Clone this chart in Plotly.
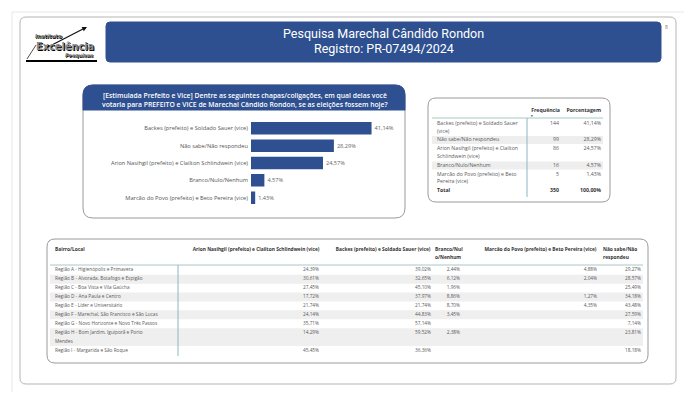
import plotly.graph_objects as go

W, H = 696, 402

# ------------------------------------------------------------------ data
title_line1 = "Pesquisa Marechal Cândido Rondon"
title_line2 = "Registro: PR-07494/2024"
question_lines = ["[Estimulada Prefeito e Vice] Dentre as seguintes chapas/coligações, em qual delas você",
                  "votaria para PREFEITO e VICE de Marechal Cândido Rondon, se as eleições fossem hoje?"]

bar_labels = ["Backes (prefeito) e Soldado Sauer (vice)",
              "Não sabe/Não respondeu",
              "Arion Nasihgil (prefeito) e Clailton Schlindwein (vice)",
              "Branco/Nulo/Nenhum",
              "Marcão do Povo (prefeito) e Beto Pereira (vice)"]
bar_values = [41.14, 28.29, 24.57, 4.57, 1.43]

freq_header = ["", "Frequência", "Porcentagem"]
freq_labels = ["Backes (prefeito) e Soldado Sauer<br>(vice)",
               "Não sabe/Não respondeu",
               "Arion Nasihgil (prefeito) e Clailton<br>Schlindwein (vice)",
               "Branco/Nulo/Nenhum",
               "Marcão do Povo (prefeito) e Beto<br>Pereira (vice)"]
freq_counts = [144, 99, 86, 16, 5]
freq_pcts = [41.14, 28.29, 24.57, 4.57, 1.43]
freq_total_label = "Total"
freq_total = 350
freq_total_pct = 100.00

region_headers = ["Bairro/Local",
                  "Arion Nasihgil (prefeito) e Clailton Schlindwein (vice)",
                  "Backes (prefeito) e Soldado Sauer (vice)",
                  "Branco/Nul<br>o/Nenhum",
                  "Marcão do Povo (prefeito) e Beto Pereira (vice)",
                  "Não sabe/Não<br>respondeu"]
region_labels = ["Região A - Higienópolis e Primavera",
                 "Região B - Alvorada, Botafogo e Espigão",
                 "Região C - Boa Vista e Vila Gaúcha",
                 "Região D - Ana Paula e Centro",
                 "Região E - Líder e Universitário",
                 "Região F - Marechal, São Francisco e São Lucas",
                 "Região G - Novo Horizonte e Novo Três Passos",
                 "Região H - Bom Jardim, Iguiporã e Porto<br>Mendes",
                 "Região I - Margarida e São Roque"]
reg_arion = [24.39, 30.61, 27.45, 17.72, 21.74, 24.14, 35.71, 14.29, 45.45]
reg_backes = [39.02, 32.65, 45.10, 37.97, 21.74, 44.83, 57.14, 59.52, 36.36]
reg_branco = [2.44, 6.12, 1.96, 8.86, 8.70, 3.45, None, 2.38, None]
reg_marcao = [4.88, 2.04, None, 1.27, 4.35, None, None, None, None]
reg_naosabe = [29.27, 28.57, 25.49, 34.18, 43.48, 27.59, 7.14, 23.81, 18.18]

# ------------------------------------------------------------------ styles
BLUE = "#2e5090"
FONT = "Open Sans"
TXT = "#5a5a5a"
HEAD = "#333333"


def pct(v):
    return "" if v is None else f"{v:.2f}".replace(".", ",") + "%"


def X(x):
    return x / W


def Y(y):
    return 1 - y / H


def rrect(x0, y0, x1, y1, r, top=True, bottom=True):
    rt = r if top else 0
    rb = r if bottom else 0
    def p(x, y):
        return f"{X(x)},{Y(y)}"
    path = f"M {p(x0 + rt, y0)} L {p(x1 - rt, y0)} Q {p(x1, y0)} {p(x1, y0 + rt)} "
    path += f"L {p(x1, y1 - rb)} Q {p(x1, y1)} {p(x1 - rb, y1)} "
    path += f"L {p(x0 + rb, y1)} Q {p(x0, y1)} {p(x0, y1 - rb)} "
    path += f"L {p(x0, y0 + rt)} Q {p(x0, y0)} {p(x0 + rt, y0)} Z"
    return path


shapes = []


def card(x0, y0, x1, y1, r, line="#9a9a9a", fill=None, width=1, top=True, bottom=True):
    shapes.append(dict(type="path", path=rrect(x0, y0, x1, y1, r, top, bottom), xref="paper", yref="paper",
                       line=dict(color=line, width=width), fillcolor=fill or "rgba(0,0,0,0)", layer="below"))


def rect(x0, y0, x1, y1, fill):
    shapes.append(dict(type="rect", xref="paper", yref="paper", x0=X(x0), x1=X(x1), y0=Y(y1), y1=Y(y0),
                       line=dict(width=0), fillcolor=fill, layer="below"))


def hline(x0, x1, y, color, width=1):
    shapes.append(dict(type="line", xref="paper", yref="paper", x0=X(x0), x1=X(x1), y0=Y(y), y1=Y(y),
                       line=dict(color=color, width=width), layer="below"))


def vline(x, y0, y1, color, width=1):
    shapes.append(dict(type="line", xref="paper", yref="paper", x0=X(x), x1=X(x), y0=Y(y0), y1=Y(y1),
                       line=dict(color=color, width=width), layer="below"))


fig = go.Figure()

# ------------------------------------------------------------------ page frame / header
hline(12, 684, 12, "#e8e8e8")
vline(12, 12, 392, "#e8e8e8")
card(20, 17, 676, 384, 6, line="#b5b5b5")
card(106, 22, 661, 62, 4, line=BLUE, fill=BLUE)

annotations = []


def ann(x, y, text, size, color, family=FONT, weight=400, xanchor="center", style="normal", shadow="none"):
    annotations.append(dict(x=X(x), y=Y(y), xref="paper", yref="paper", text=text, showarrow=False,
                            xanchor=xanchor, yanchor="middle",
                            font=dict(size=size, color=color, family=family, weight=weight, style=style,
                                      shadow=shadow)))


ann(383.5, 34, title_line1, 12.5, "white", family="Roboto")
ann(383.5, 48, title_line2, 12.5, "white", family="Roboto")
ann(666, 27, "8", 5, "#777777")

# logo
hline(26, 97, 61, "black", 2)
shapes.append(dict(type="line", xref="paper", yref="paper", x0=X(27), y0=Y(59), x1=X(36), y1=Y(45),
                   line=dict(color="#222", width=0.8)))
annotations.append(dict(x=X(87), y=Y(27), ax=-41, ay=21, xref="paper", yref="paper",
                        axref="pixel", ayref="pixel", showarrow=True, arrowhead=2, arrowsize=0.8,
                        arrowwidth=1.2, arrowcolor="#111", text=""))
ann(33, 35.5, "Instituto", 5.5, "#7a7a7a", family="DejaVu Sans", weight=700, xanchor="left", style="italic",
    shadow="1px 1px 0px #000")
ann(34, 46, "Excelência", 9.8, "#8c8c8c", family="DejaVu Sans", weight=700, xanchor="left",
    shadow="1px 1px 0px #000")
ann(63, 55.5, "Pesquisas", 5.0, "#7a7a7a", family="DejaVu Sans", weight=700, xanchor="left", style="italic",
    shadow="1px 1px 0px #000")

# ------------------------------------------------------------------ bar chart card
card(83, 85, 405, 218, 10)
card(83, 85, 405, 110, 10, line=BLUE, fill=BLUE, bottom=False)
ann(245, 95.7, question_lines[0], 6.8, "white", weight=600)
ann(245, 104.2, question_lines[1], 6.8, "white", weight=600)

fig.add_trace(go.Bar(
    x=bar_values, y=bar_labels, orientation="h",
    marker=dict(color=BLUE, line=dict(width=0)),
    text=[pct(v) for v in bar_values], textposition="outside", cliponaxis=False,
    textfont=dict(size=5.6, color="#666666", family=FONT),
    hoverinfo="skip", showlegend=False, xaxis="x", yaxis="y"))

# ------------------------------------------------------------------ text-table helper (pixel axes x2/y2)
def texts(xs, ys, labels, align, size, color, weight=400):
    fig.add_trace(go.Scatter(
        x=xs, y=ys, text=labels, mode="text",
        textposition="middle right" if align == "left" else "middle left",
        textfont=dict(size=size, color=color, family=FONT, weight=weight),
        hoverinfo="skip", showlegend=False, cliponaxis=False, xaxis="x2", yaxis="y2"))


# ------------------------------------------------------------------ frequency table
card(428, 98, 610, 202, 8)
F_LABEL_X, F_FREQ_X, F_PCT_X = 437, 559, 601
F_Y0, F_LH, F_PAD = 123.5, 7.8, 1.0
F_SIZE = 5.2

row_y = []
y = F_Y0
for lab in freq_labels + [freq_total_label]:
    row_y.append(y)
    y += (lab.count("<br>") + 1) * F_LH + F_PAD

for i, lab in enumerate(freq_labels):
    if i % 2 == 1:
        rect(432, row_y[i] - 4, 603, row_y[i] + 4, "#eeeeee")

hline(432, 603, 118, "#a9c6c6")
vline(527, 118, 197, "#8fb5c4")

lx, ly, lt = [], [], []
for i, lab in enumerate(freq_labels):
    for k, part in enumerate(lab.split("<br>")):
        lx.append(F_LABEL_X)
        ly.append(row_y[i] + k * F_LH)
        lt.append(part)
texts(lx, ly, lt, "left", F_SIZE, TXT)
texts([F_FREQ_X] * len(freq_counts), row_y[:-1], [str(c) for c in freq_counts], "right", F_SIZE, TXT)
texts([F_PCT_X] * len(freq_pcts), row_y[:-1], [pct(v) for v in freq_pcts], "right", F_SIZE, TXT)
texts([F_LABEL_X], [row_y[-1]], [freq_total_label], "left", F_SIZE, HEAD, 700)
texts([F_FREQ_X, F_PCT_X], [row_y[-1]] * 2, [str(freq_total), pct(freq_total_pct)], "right", F_SIZE, HEAD, 700)
texts([F_FREQ_X + 1, F_PCT_X], [111, 111], freq_header[1:], "right", F_SIZE, HEAD, 700)
texts([530.2], [116.3], ["▼"], "left", 3.2, "#333333")

# ------------------------------------------------------------------ regional table
card(47, 239, 648, 363, 8)
R_Y0, R_LH = 270.3, 8.9
R_SIZE = 4.75
R_HEAD_Y, R_HEAD_LH = 250.2, 7.7
col_anchor = [55, 319, 431, 460, 597, 641]
head_anchor = [(55, "left"), (319.5, "right"), (430.5, "right"), (435, "left"), (596.5, "right"), (603, "left")]

reg_y = []
line = 0
for lab in region_labels:
    reg_y.append(R_Y0 + line * R_LH)
    line += lab.count("<br>") + 1

for i, lab in enumerate(region_labels):
    if i % 2 == 1:
        n = lab.count("<br>") + 1
        rect(50, reg_y[i] - R_LH / 2, 643, reg_y[i] + (n - 0.5) * R_LH, "#efefef")

hline(50, 643, 265, "#a9c6c6")
vline(178, 265, 356, "#8fb5c4")

# headers
for (hx, al), hd in zip(head_anchor, region_headers):
    parts = hd.split("<br>")
    texts([hx] * len(parts), [R_HEAD_Y + k * R_HEAD_LH for k in range(len(parts))], parts, al,
          R_SIZE + 0.1, HEAD, 700)

# row labels
lx, ly, lt = [], [], []
for i, lab in enumerate(region_labels):
    for k, part in enumerate(lab.split("<br>")):
        lx.append(col_anchor[0])
        ly.append(reg_y[i] + k * R_LH)
        lt.append(part)
texts(lx, ly, lt, "left", R_SIZE, TXT)

for ci, series in enumerate([reg_arion, reg_backes, reg_branco, reg_marcao, reg_naosabe], start=1):
    texts([col_anchor[ci]] * len(series), reg_y, [pct(v) for v in series], "right", R_SIZE, TXT)

# ------------------------------------------------------------------ layout
fig.update_layout(
    width=W, height=H, autosize=False,
    margin=dict(l=0, r=0, t=0, b=0, pad=0),
    paper_bgcolor="white", plot_bgcolor="rgba(0,0,0,0)",
    bargap=0.28, showlegend=False,
    shapes=shapes, annotations=annotations,
    font=dict(family=FONT),
    xaxis=dict(domain=[X(251), X(397.5)], range=[0, 50], visible=False, fixedrange=True, anchor="y"),
    yaxis=dict(domain=[Y(206.4), Y(119.6)], autorange="reversed", anchor="x",
               showgrid=False, zeroline=False, showline=False, ticks="",
               ticklabelstandoff=2, tickfont=dict(size=5.7, color="#555555", family=FONT), fixedrange=True),
    xaxis2=dict(domain=[0, 1], range=[0, W], visible=False, anchor="y2", fixedrange=True),
    yaxis2=dict(domain=[0, 1], range=[H, 0], visible=False, anchor="x2", fixedrange=True),
)

fig.write_html("out.html", config={"displayModeBar": False})
